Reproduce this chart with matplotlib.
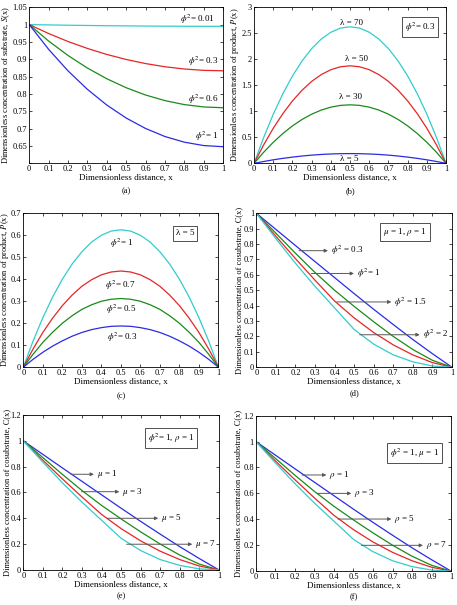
import matplotlib.pyplot as plt

plt.rcParams['font.family'] = ['Liberation Serif', 'DejaVu Serif']
plt.rcParams['mathtext.fontset'] = 'stix'

BLUE, RED, GREEN, CYAN = '#2b2be6', '#e52626', '#1a8a1a', '#33cccc'

# ---- data ----
x11 = [0, 0.1, 0.2, 0.3, 0.4, 0.5, 0.6, 0.7, 0.8, 0.9, 1.0]
x21 = [0, 0.05, 0.1, 0.15, 0.2, 0.25, 0.3, 0.35, 0.4, 0.45, 0.5,
       0.55, 0.6, 0.65, 0.7, 0.75, 0.8, 0.85, 0.9, 0.95, 1.0]

# (a) substrate S(x)
s_001 = [1, 0.9991, 0.9982, 0.9975, 0.9968, 0.9963, 0.9958, 0.9955, 0.9952, 0.9951, 0.9950]
s_03 = [1, 0.9743, 0.9513, 0.9313, 0.9140, 0.8995, 0.8877, 0.8785, 0.8720, 0.8681, 0.8668]
s_06 = [1, 0.9526, 0.9110, 0.8748, 0.8439, 0.8181, 0.7971, 0.7809, 0.7694, 0.7626, 0.7603]
s_1 = [1, 0.9287, 0.8667, 0.8134, 0.7682, 0.7307, 0.7006, 0.6774, 0.6611, 0.6513, 0.6480]

# (b) product P(x), phi^2 = 0.3
p_l70 = [0, 0.499, 0.945, 1.339, 1.68, 1.969, 2.205, 2.389, 2.52, 2.599, 2.625,
         2.599, 2.52, 2.389, 2.205, 1.969, 1.68, 1.339, 0.945, 0.499, 0]
p_l50 = [0, 0.356, 0.675, 0.956, 1.2, 1.406, 1.575, 1.706, 1.8, 1.856, 1.875,
         1.856, 1.8, 1.706, 1.575, 1.406, 1.2, 0.956, 0.675, 0.356, 0]
p_l30 = [0, 0.214, 0.405, 0.574, 0.72, 0.844, 0.945, 1.024, 1.08, 1.114, 1.125,
         1.114, 1.08, 1.024, 0.945, 0.844, 0.72, 0.574, 0.405, 0.214, 0]
p_l5 = [0, 0.036, 0.068, 0.096, 0.12, 0.141, 0.158, 0.171, 0.18, 0.186, 0.1875,
        0.186, 0.18, 0.171, 0.158, 0.141, 0.12, 0.096, 0.068, 0.036, 0]

# (c) product P(x), lambda = 5
p_f1 = [0, 0.119, 0.225, 0.319, 0.4, 0.469, 0.525, 0.569, 0.6, 0.619, 0.625,
        0.619, 0.6, 0.569, 0.525, 0.469, 0.4, 0.319, 0.225, 0.119, 0]
p_f07 = [0, 0.083, 0.158, 0.223, 0.28, 0.328, 0.368, 0.398, 0.42, 0.433, 0.4375,
         0.433, 0.42, 0.398, 0.368, 0.328, 0.28, 0.223, 0.158, 0.083, 0]
p_f05 = [0, 0.059, 0.113, 0.159, 0.2, 0.234, 0.263, 0.284, 0.3, 0.309, 0.3125,
         0.309, 0.3, 0.284, 0.263, 0.234, 0.2, 0.159, 0.113, 0.059, 0]
p_f03 = p_l5

# (d)-(f) cosubstrate C(x)
c_blue = [1, 0.895, 0.79, 0.686, 0.582, 0.478, 0.376, 0.277, 0.18, 0.088, 0]
c_green = [1, 0.87, 0.74, 0.615, 0.50, 0.395, 0.295, 0.20, 0.115, 0.045, 0]
c_red = [1, 0.85, 0.705, 0.565, 0.43, 0.32, 0.225, 0.145, 0.08, 0.03, 0]
c_cyan = [1, 0.835, 0.675, 0.525, 0.385, 0.245, 0.15, 0.08, 0.035, 0.008, 0]

xticks = [0, 0.1, 0.2, 0.3, 0.4, 0.5, 0.6, 0.7, 0.8, 0.9, 1]
xticklabels = ['0', '0.1', '0.2', '0.3', '0.4', '0.5', '0.6', '0.7', '0.8', '0.9', '1']

fig = plt.figure(figsize=(4.57, 6.05), dpi=100)
FS = 6


def setup(ax, yt, ytl, ylim, ylabel, tag, tagy, labx=None):
    ax.set_xlim(0, 1)
    ax.set_ylim(*ylim)
    ax.set_xticks(xticks)
    ax.set_xticklabels(xticklabels)
    ax.set_yticks(yt)
    ax.set_yticklabels(ytl)
    ax.tick_params(direction='in', top=True, right=True, length=2.5,
                   width=0.5, labelsize=FS, pad=1.5)
    for s in ax.spines.values():
        s.set_linewidth(0.6)
    ax.set_xlabel('Dimensionless distance, x', fontsize=FS + 0.5, labelpad=0.5)
    ax.set_ylabel(ylabel, fontsize=FS, labelpad=0.5)
    if labx is not None:
        ax.yaxis.set_label_coords(labx, 0.5)
    ax.text(0.5, tagy, tag, transform=ax.transAxes, ha='center', va='center',
            fontsize=FS)


def boxed(ax, x, y, txt):
    ax.text(x, y, txt, ha='center', va='center', fontsize=FS + 0.5,
            bbox=dict(boxstyle='square,pad=0.35', fc='white', ec='0.2', lw=0.6))


def arrows(ax, items):
    for x0, x1, y, txt in items:
        ax.annotate('', xy=(x1, y), xytext=(x0, y),
                    arrowprops=dict(arrowstyle='-|>', color='0.35', lw=0.7,
                                    mutation_scale=5, shrinkA=0, shrinkB=0))
        ax.text(x1 + 0.015, y, txt, ha='left', va='center', fontsize=FS + 0.5)


lw = 0.9

# (a)
ax = fig.add_axes([0.064, 0.730, 0.424, 0.258])
ax.plot(x11, s_001, color=CYAN, lw=lw)
ax.plot(x11, s_03, color=RED, lw=lw)
ax.plot(x11, s_06, color=GREEN, lw=lw)
ax.plot(x11, s_1, color=BLUE, lw=lw)
setup(ax, [0.6, 0.65, 0.7, 0.75, 0.8, 0.85, 0.9, 0.95, 1, 1.05],
      ['', '0.65', '0.7', '0.75', '0.8', '0.85', '0.9', '0.95', '1', '1.05'],
      (0.6, 1.05), 'Dimensionless concentration of substrate, $S$(x)', '(a)', -0.18)
for tx, ty, t in [(0.866, 1.016, r'$\phi^2$= 0.01'), (0.897, 0.893, r'$\phi^2$= 0.3'),
                  (0.897, 0.786, r'$\phi^2$= 0.6'), (0.918, 0.677, r'$\phi^2$= 1')]:
    ax.text(tx, ty, t, ha='center', va='center', fontsize=FS + 0.5)

# (b)
ax = fig.add_axes([0.556, 0.730, 0.420, 0.258])
ax.plot(x21, p_l70, color=CYAN, lw=lw)
ax.plot(x21, p_l50, color=RED, lw=lw)
ax.plot(x21, p_l30, color=GREEN, lw=lw)
ax.plot(x21, p_l5, color=BLUE, lw=lw)
setup(ax, [0, 0.5, 1, 1.5, 2, 2.5, 3], ['0', '0.5', '1', '1.5', '2', '2.5', '3'],
      (0, 3), 'Dimensionless concentration of product, $P$(x)', '(b)', -0.18)
for tx, ty, t in [(0.507, 2.70, 'λ = 70'), (0.533, 2.0, 'λ = 50'),
                  (0.504, 1.266, 'λ = 30'), (0.498, 0.077, 'λ = 5')]:
    ax.text(tx, ty, t, ha='center', va='center', fontsize=FS + 0.5)
boxed(ax, 0.865, 2.62, r'$\phi^2$= 0.3')

# (c)
ax = fig.add_axes([0.051, 0.393, 0.427, 0.2545])
ax.plot(x21, p_f1, color=CYAN, lw=lw)
ax.plot(x21, p_f07, color=RED, lw=lw)
ax.plot(x21, p_f05, color=GREEN, lw=lw)
ax.plot(x21, p_f03, color=BLUE, lw=lw)
setup(ax, [0, 0.1, 0.2, 0.3, 0.4, 0.5, 0.6, 0.7],
      ['0', '0.1', '0.2', '0.3', '0.4', '0.5', '0.6', '0.7'],
      (0, 0.7), 'Dimensionless concentration of product, $P$(x)', '(c)', -0.19,
      labx=-0.064)
for tx, ty, t in [(0.505, 0.565, r'$\phi^2$= 1'), (0.496, 0.373, r'$\phi^2$= 0.7'),
                  (0.5, 0.262, r'$\phi^2$= 0.5'), (0.505, 0.138, r'$\phi^2$= 0.3')]:
    ax.text(tx, ty, t, ha='center', va='center', fontsize=FS + 0.5)
boxed(ax, 0.829, 0.608, 'λ = 5')

yt01 = [0, 0.1, 0.2, 0.3, 0.4, 0.5, 0.6, 0.7, 0.8, 0.9, 1]
ytl01 = ['0', '0.1', '0.2', '0.3', '0.4', '0.5', '0.6', '0.7', '0.8', '0.9', '1']
yt12 = [0, 0.2, 0.4, 0.6, 0.8, 1, 1.2]
ytl12 = ['0', '0.2', '0.4', '0.6', '0.8', '1', '1.2']
clabel = 'Dimensionless concentration of cosubstrate, C(x)'

# (d)
ax = fig.add_axes([0.561, 0.393, 0.428, 0.2545])
for c, col in [(c_blue, BLUE), (c_green, GREEN), (c_red, RED), (c_cyan, CYAN)]:
    ax.plot(x11, c, color=col, lw=lw)
setup(ax, yt01, ytl01, (0, 1), clabel, '(d)', -0.17)
boxed(ax, 0.758, 0.877, r'$\mu$ = 1, $\rho$ = 1')
arrows(ax, [(0.218, 0.366, 0.757, r'$\phi^2$ = 0.3'), (0.281, 0.499, 0.609, r'$\phi^2$= 1'),
            (0.411, 0.69, 0.424, r'$\phi^2$ = 1.5'), (0.528, 0.835, 0.211, r'$\phi^2$ = 2')])

# (e)
ax = fig.add_axes([0.051, 0.058, 0.428, 0.256])
for c, col in [(c_blue, BLUE), (c_green, GREEN), (c_red, RED), (c_cyan, CYAN)]:
    ax.plot(x11, c, color=col, lw=lw)
setup(ax, yt12, ytl12, (0, 1.2), clabel, '(e)', -0.17, labx=-0.064)
boxed(ax, 0.755, 1.02, r'$\phi^2$= 1, $\rho$ = 1')
arrows(ax, [(0.244, 0.361, 0.741, r'$\mu$ = 1'), (0.298, 0.491, 0.606, r'$\mu$ = 3'),
            (0.429, 0.69, 0.40, r'$\mu$ = 5'), (0.528, 0.864, 0.199, r'$\mu$ = 7')])

# (f)
ax = fig.add_axes([0.560, 0.056, 0.427, 0.257])
for c, col in [(c_blue, BLUE), (c_green, GREEN), (c_red, RED), (c_cyan, CYAN)]:
    ax.plot(x11, c, color=col, lw=lw)
setup(ax, yt12, ytl12, (0, 1.2), clabel, '(f)', -0.17)
boxed(ax, 0.814, 0.91, r'$\phi^2$ = 1, $\mu$ = 1')
arrows(ax, [(0.236, 0.361, 0.742, r'$\rho$ = 1'), (0.314, 0.489, 0.60, r'$\rho$ = 3'),
            (0.42, 0.694, 0.402, r'$\rho$ = 5'), (0.54, 0.856, 0.199, r'$\rho$ = 7')])

fig.savefig('out.png', dpi=100)
